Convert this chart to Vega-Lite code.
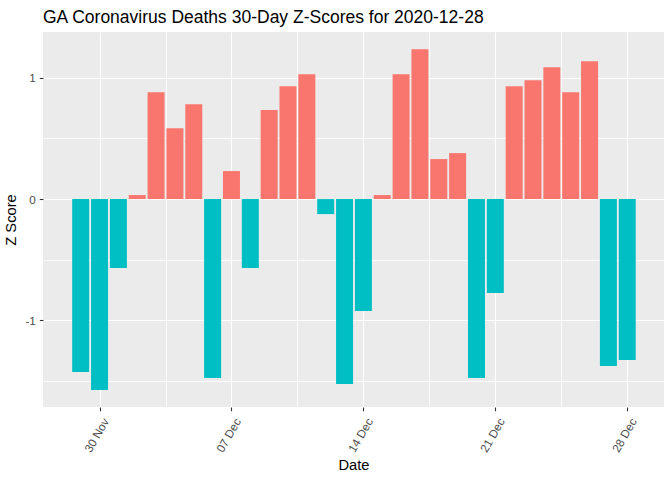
{
  "$schema": "https://vega.github.io/schema/vega-lite/v6.json",
  "width": 621,
  "height": 375,
  "autosize": {"type": "none"},
  "padding": {"left": 43, "top": 32, "right": 8, "bottom": 73},
  "background": "white",
  "title": {
    "text": "GA Coronavirus Deaths 30-Day Z-Scores for 2020-12-28",
    "anchor": "start",
    "frame": "group",
    "font": "Liberation Sans",
    "fontSize": 17.5,
    "fontWeight": "normal",
    "color": "black",
    "baseline": "alphabetic",
    "offset": 10,
    "dy": 18
  },
  "config": {
    "view": {"fill": "#EBEBEB", "stroke": null},
    "font": "Liberation Sans"
  },
  "data": {
    "format": {"parse": {"date": "date:'%Y-%m-%d'"}},
    "values": [
      {"date": "2020-11-29", "z": -1.426},
      {"date": "2020-11-30", "z": -1.574},
      {"date": "2020-12-01", "z": -0.569},
      {"date": "2020-12-02", "z": 0.033},
      {"date": "2020-12-03", "z": 0.882},
      {"date": "2020-12-04", "z": 0.585},
      {"date": "2020-12-05", "z": 0.783},
      {"date": "2020-12-06", "z": -1.475},
      {"date": "2020-12-07", "z": 0.231},
      {"date": "2020-12-08", "z": -0.569},
      {"date": "2020-12-09", "z": 0.734},
      {"date": "2020-12-10", "z": 0.931},
      {"date": "2020-12-11", "z": 1.030},
      {"date": "2020-12-12", "z": -0.124},
      {"date": "2020-12-13", "z": -1.525},
      {"date": "2020-12-14", "z": -0.923},
      {"date": "2020-12-15", "z": 0.033},
      {"date": "2020-12-16", "z": 1.030},
      {"date": "2020-12-17", "z": 1.236},
      {"date": "2020-12-18", "z": 0.330},
      {"date": "2020-12-19", "z": 0.379},
      {"date": "2020-12-20", "z": -1.475},
      {"date": "2020-12-21", "z": -0.775},
      {"date": "2020-12-22", "z": 0.931},
      {"date": "2020-12-23", "z": 0.981},
      {"date": "2020-12-24", "z": 1.088},
      {"date": "2020-12-25", "z": 0.882},
      {"date": "2020-12-26", "z": 1.137},
      {"date": "2020-12-27", "z": -1.376},
      {"date": "2020-12-28", "z": -1.327}
    ]
  },
  "mark": {"type": "bar", "size": 17},
  "encoding": {
    "x": {
      "field": "date",
      "type": "temporal",
      "title": "Date",
      "scale": {
        "padding": 0,
        "domain": [
          {"year": 2020, "month": 11, "date": 27},
          {"year": 2020, "month": 12, "date": 29, "hours": 22, "minutes": 48}
        ]
      },
      "axis": {
        "values": [
          {"year": 2020, "month": 11, "date": 30},
          {"year": 2020, "month": 12, "date": 3, "hours": 12},
          {"year": 2020, "month": 12, "date": 7},
          {"year": 2020, "month": 12, "date": 10, "hours": 12},
          {"year": 2020, "month": 12, "date": 14},
          {"year": 2020, "month": 12, "date": 17, "hours": 12},
          {"year": 2020, "month": 12, "date": 21},
          {"year": 2020, "month": 12, "date": 24, "hours": 12},
          {"year": 2020, "month": 12, "date": 28}
        ],
        "labelExpr": "hours(datum.value) == 12 ? '' : timeFormat(datum.value, '%d %b')",
        "labelAngle": -60,
        "labelAlign": "right",
        "labelBaseline": "middle",
        "labelFontSize": 11.7,
        "labelColor": "#4D4D4D",
        "labelFlush": false,
        "labelOverlap": false,
        "labelPadding": 8,
        "labelOffset": 6,
        "tickColor": "#333333",
        "tickSize": 3.7,
        "tickWidth": 1.1,
        "tickOpacity": {"condition": {"test": "hours(datum.value) == 12", "value": 0}, "value": 1},
        "gridColor": "white",
        "gridWidth": {"condition": {"test": "hours(datum.value) == 12", "value": 0.8}, "value": 1.1},
        "domain": false,
        "titleFontSize": 14.7,
        "titleFontWeight": "normal",
        "titleColor": "black",
        "titlePadding": 3
      }
    },
    "y": {
      "field": "z",
      "type": "quantitative",
      "title": "Z Score",
      "scale": {"domain": [-1.715, 1.378], "nice": false, "zero": false, "padding": 0},
      "axis": {
        "values": [-1.5, -1, -0.5, 0, 0.5, 1],
        "labelExpr": "datum.value == 1 ? '1' : datum.value == 0 ? '0' : datum.value == -1 ? '-1' : ''",
        "labelFontSize": 11.7,
        "labelColor": "#4D4D4D",
        "labelPadding": 4,
        "tickColor": "#333333",
        "tickSize": 3.7,
        "tickWidth": 1.1,
        "tickOpacity": {"condition": {"test": "datum.value % 1 != 0", "value": 0}, "value": 1},
        "gridColor": "white",
        "gridWidth": {"condition": {"test": "datum.value % 1 != 0", "value": 0.8}, "value": 1.1},
        "domain": false,
        "titleFontSize": 14.7,
        "titleFontWeight": "normal",
        "titleColor": "black",
        "titlePadding": 6
      }
    },
    "color": {
      "condition": {"test": "datum.z >= 0", "value": "#F8766D"},
      "value": "#00BFC4"
    }
  }
}
